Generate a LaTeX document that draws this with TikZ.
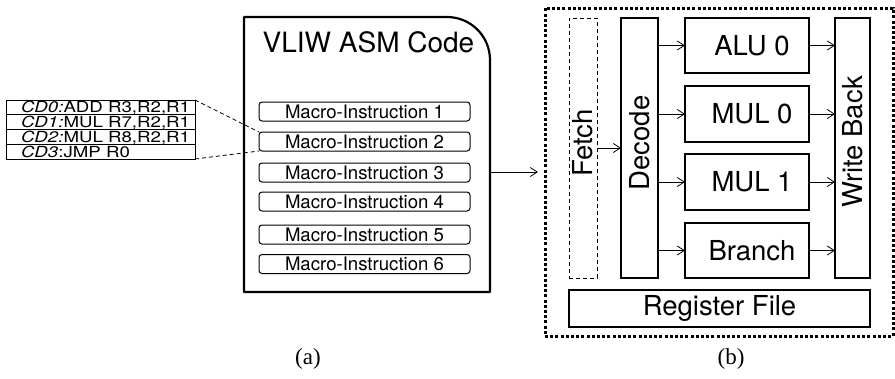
\documentclass[tikz,border=0pt]{standalone}
\usepackage{fontspec}
\newfontfamily\hv{TeX Gyre Heros}
\newfontfamily\hvwide{TeX Gyre Heros}[FakeStretch=1.22]
\newfontfamily\tm{Liberation Serif}
\usetikzlibrary{arrows.meta,calc}
\begin{document}
\begin{tikzpicture}[x=1pt,y=1pt,
  every node/.style={inner sep=0pt, outer sep=0pt},
  row/.style={draw, line width=1pt, minimum width=189pt, minimum height=14.75pt},
  rowtext/.style={anchor=base west, font=\hvwide\fontsize{15.3}{17}\selectfont},
  macro/.style={draw, line width=1pt, rounded corners=3pt, minimum width=211pt,
    minimum height=19pt, font=\hv\fontsize{18.6}{20}\selectfont},
  unit/.style={draw, line width=1.2pt},
  unittext/.style={font=\hv\fontsize{27.5}{30}\selectfont},
  vtext/.style={font=\hv\fontsize{27.5}{30}\selectfont, rotate=90},
  arr/.style={-{Straight Barb[length=7pt,width=9pt]}, line width=0.8pt},
  caption/.style={font=\tm\fontsize{23}{26}\selectfont}
]
\useasboundingbox (0,0) rectangle (895,-378);

% ---------- instruction bundle table ----------
\node[row] (r0) at (100.5,-107.375) {};
\node[row] (r1) at (100.5,-122.125) {};
\node[row] (r2) at (100.5,-136.875) {};
\node[row] (r3) at (100.5,-151.625) {};
\node[rowtext] (t0) at ([xshift=15pt,yshift=-5.4pt]r0.west) {\itshape CD0:\upshape ADD R3,R2,R1};
\node[rowtext] (t1) at ([xshift=15pt,yshift=-5.4pt]r1.west) {\itshape CD1:\upshape MUL R7,R2,R1};
\node[rowtext] (t2) at ([xshift=15pt,yshift=-5.4pt]r2.west) {\itshape CD2:\upshape MUL R8,R2,R1};
\node[rowtext] (t3) at ([xshift=15pt,yshift=-5.4pt]r3.west) {\itshape CD3\upshape :JMP R0};

% ---------- VLIW code listing ----------
\node[minimum width=246pt, minimum height=275pt] (code) at (367,-154.5) {};
\draw[line width=2.2pt, line join=round]
  (code.south west) -- (code.north west) -- ([xshift=-43pt]code.north east)
  arc[start angle=90, end angle=0, radius=43pt] -- (code.south east) -- cycle;
\node[font=\hv\fontsize{28}{30}\selectfont] (title) at (368.5,-42.5) {VLIW ASM Code};

\node[macro] (m1) at (364.5,-111.5) {Macro-Instruction 1};
\node[macro] (m2) at (364.5,-141.5) {Macro-Instruction 2};
\node[macro] (m3) at (364.5,-172.5) {Macro-Instruction 3};
\node[macro] (m4) at (364.5,-201.5) {Macro-Instruction 4};
\node[macro] (m5) at (364.5,-234.5) {Macro-Instruction 5};
\node[macro] (m6) at (364.5,-264)   {Macro-Instruction 6};

\draw[line width=0.8pt, dash pattern=on 4pt off 3pt] (r0.north east) -- (m2.north west);
\draw[line width=0.8pt, dash pattern=on 4pt off 3pt] (r3.south east) -- (m2.south west);

% ---------- processor core ----------
\node[draw, line width=3pt, dash pattern=on 3pt off 2.2pt,
      minimum width=348pt, minimum height=328pt] (core) at (719,-172) {};

\node[draw, line width=0.9pt, dash pattern=on 4pt off 3pt,
      minimum width=28pt, minimum height=260pt] (fetch) at (583,-148) {};
\node[unit, minimum width=37pt, minimum height=260pt] (decode) at (639.5,-148) {};
\node[unit, minimum width=35pt, minimum height=260pt] (wb) at (852.5,-148) {};

\node[unit, minimum width=124pt, minimum height=55pt] (alu)  at (747,-45.5)  {};
\node[unit, minimum width=124pt, minimum height=56pt] (mul0) at (747,-114)   {};
\node[unit, minimum width=124pt, minimum height=56pt] (mul1) at (747,-182)   {};
\node[unit, minimum width=124pt, minimum height=55pt] (br)   at (747,-250.5) {};
\node[unit, minimum width=301pt, minimum height=37pt] (rf)   at (719.5,-308.5) {};

\node[vtext] (fetchl)  at ([yshift=5pt]fetch.center)  {Fetch};
\node[vtext] (decodel) at ([yshift=5pt]decode.center) {Decode};
\node[vtext] (wbl)     at ([yshift=6pt]wb.center)     {Write Back};
\node[unittext] (alul)  at ([xshift=5pt]alu.center)  {ALU 0};
\node[unittext] (mul0l) at ([xshift=5pt]mul0.center) {MUL 0};
\node[unittext] (mul1l) at ([xshift=5pt]mul1.center) {MUL 1};
\node[unittext] (brl)   at ([xshift=5pt]br.center)   {Branch};
\node[unittext] (rfl)   at (rf.center)               {Register File};

% ---------- data flow ----------
\draw[arr] (code.east |- core.west) -- ([xshift=-7pt]core.west);
\draw[arr] (fetch.east) -- (decode.west);
\foreach \u in {alu,mul0,mul1,br}{
  \draw[arr] (decode.east |- \u.west) -- (\u.west);
  \draw[arr] (\u.east) -- (wb.west |- \u.east);
}

% ---------- captions ----------
\node[caption] (capa) at (308,-359) {(a)};
\node[caption] (capb) at (731,-359) {(b)};
\end{tikzpicture}
\end{document}
